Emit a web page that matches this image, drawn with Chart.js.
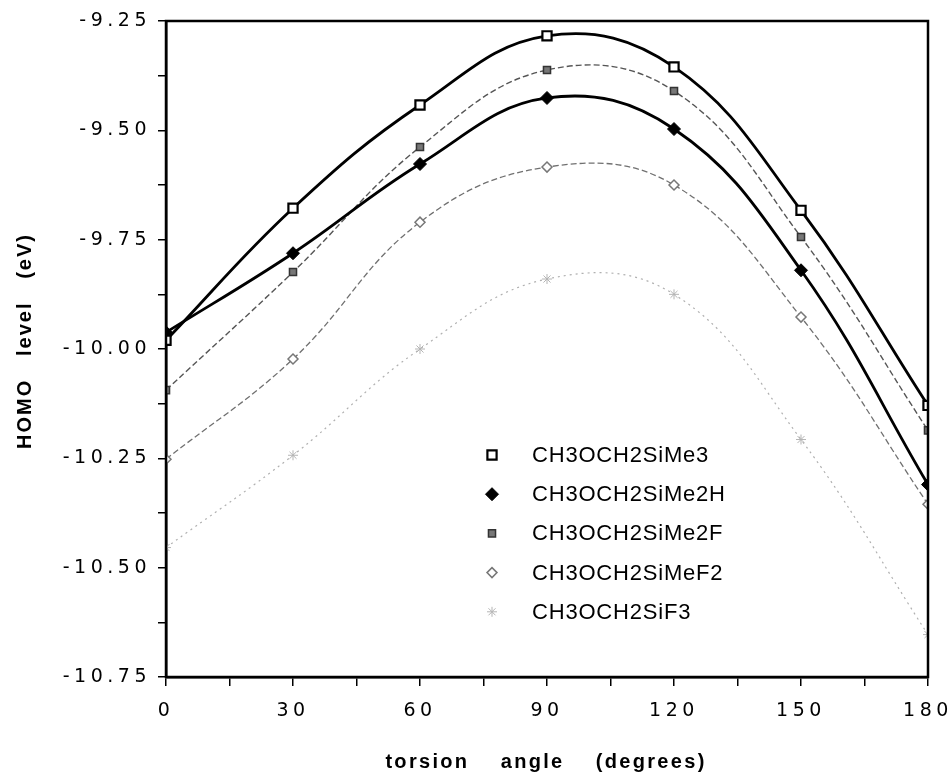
<!DOCTYPE html>
<html><head><meta charset="utf-8">
<script src="https://cdn.jsdelivr.net/npm/chart.js@4/dist/chart.umd.min.js"></script>
<style>html,body{margin:0;padding:0;background:#fff}#wrap{width:950px;height:778px}</style>
</head><body><div id="wrap"><canvas id="c" width="950" height="778"></canvas></div>
<script>
const angles = [0, 30, 60, 90, 120, 150, 180];
const xTickLabels = ['0', '30', '60', '90', '120', '150', '180'];
const me3   = [-9.98, -9.678, -9.442, -9.284, -9.355, -9.683, -10.129];
const me2h  = [-9.962, -9.781, -9.577, -9.426, -9.497, -9.82, -10.31];
const me2f  = [-10.094, -9.824, -9.538, -9.362, -9.41, -9.744, -10.186];
const mef2  = [-10.252, -10.023, -9.71, -9.584, -9.625, -9.927, -10.355];
const sif3  = [-10.454, -10.243, -10.0, -9.84, -9.875, -10.207, -10.653];
const names = ['CH3OCH2SiMe3','CH3OCH2SiMe2H','CH3OCH2SiMe2F','CH3OCH2SiMeF2','CH3OCH2SiF3'];
const xTitle = 'torsion    angle    (degrees)';
const yTitle = 'HOMO   level   (eV)';

const pts = arr => arr.map((v,i)=>({x:angles[i], y:v}));
const FONT = '"Liberation Sans", Arial, sans-serif';
const TFONT = '"DejaVu Sans", sans-serif';

const datasets = [
 {label:names[0], data:pts(me3), borderColor:'#000', borderWidth:2.8, pointStyle:'rect', pointRadius:6.5, pointBorderWidth:2.2, pointBackgroundColor:'#fff', pointBorderColor:'#000'},
 {label:names[1], data:pts(me2h), borderColor:'#000', borderWidth:2.8, pointStyle:'rectRot', pointRadius:6.5, pointBorderWidth:1, pointBackgroundColor:'#000', pointBorderColor:'#000'},
 {label:names[2], data:pts(me2f), borderColor:'#555', borderWidth:1.4, borderDash:[6,3], pointStyle:'rect', pointRadius:5, pointBorderWidth:1.5, pointBackgroundColor:'#777', pointBorderColor:'#333'},
 {label:names[3], data:pts(mef2), borderColor:'#707070', borderWidth:1.3, borderDash:[6,3], pointStyle:'rectRot', pointRadius:5, pointBorderWidth:1.5, pointBackgroundColor:'#fff', pointBorderColor:'#777'},
 {label:names[4], data:pts(sif3), borderColor:'#b0b0b0', borderWidth:1.2, borderDash:[2,4], pointStyle:'star', pointRadius:5, pointBorderWidth:1, pointBackgroundColor:'#fff', pointBorderColor:'#b5b5b5'}
];
datasets.forEach(d=>{d.tension=0.4; d.fill=false;});

const framePlugin = {
 id:'frame',
 beforeDraw(chart){ chart.ctx.letterSpacing = '4.5px'; },
 afterDraw(chart){
  const {ctx, chartArea:a} = chart;
  ctx.save();
  ctx.strokeStyle='#000'; ctx.lineWidth=2.5;
  ctx.strokeRect(a.left, a.top, a.right-a.left, a.bottom-a.top);
  // axis titles
  ctx.fillStyle='#000'; ctx.textBaseline='middle'; ctx.textAlign='center';
  ctx.letterSpacing = '2.3px';
  ctx.font = 'bold 20px ' + FONT;
  ctx.fillText(xTitle, 546, 762);
  ctx.letterSpacing = '2px';
  ctx.save();
  ctx.translate(25, 341);
  ctx.rotate(-Math.PI/2);
  ctx.fillText(yTitle, 0, 0);
  ctx.restore();
  // legend
  const lx = 492, tx = 532, y0 = 455, dy = 39.2;
  ctx.letterSpacing = '0.8px';
  ctx.font = '22px ' + FONT; ctx.textAlign='left';
  chart.data.datasets.forEach((d,i)=>{
    const y = y0 + i*dy;
    ctx.save();
    ctx.fillStyle = d.pointBackgroundColor; ctx.strokeStyle = d.pointBorderColor; ctx.lineWidth = d.pointBorderWidth;
    ctx.setLineDash([]);
    Chart.helpers.drawPoint(ctx, {pointStyle:d.pointStyle, radius:d.pointRadius, rotation:0, borderWidth:d.pointBorderWidth}, lx, y);
    ctx.restore();
    ctx.fillStyle='#000';
    ctx.fillText(d.label, tx, y + 1);
  });
  ctx.restore();
  ctx.letterSpacing = '0px';
 }
};

new Chart(document.getElementById('c'), {
 type:'line',
 data:{datasets},
 options:{
  responsive:false, animation:false,
  layout:{autoPadding:false, padding:{top:21, right:22, left:0, bottom:0}},
  plugins:{legend:{display:false}, tooltip:{enabled:false}},
  scales:{
   x:{type:'linear', min:0, max:180,
      afterFit(s){ s.height = 101; s.paddingLeft = 0; s.paddingRight = 0; },
      afterBuildTicks(s){ const t=[]; for(let v=0; v<=180; v+=15) t.push({value:v}); s.ticks=t; },
      ticks:{autoSkip:false, maxRotation:0, padding:14, color:'#000', font:{family:TFONT, size:19},
        callback:v=> (v%30===0 ? xTickLabels[angles.indexOf(v)] : '')},
      grid:{drawOnChartArea:false, tickLength:9, color:'#000', lineWidth:1.5},
      border:{display:true, color:'#000', width:2.5}
   },
   y:{type:'linear', min:-10.75, max:-9.25,
      afterFit(s){ s.width = 166; s.paddingTop = 0; s.paddingBottom = 0; },
      afterBuildTicks(s){ const t=[]; for(let k=0; k<=12; k++) t.push({value:-10.75 + k*0.125}); s.ticks=t; },
      ticks:{autoSkip:false, padding:7, color:'#000', font:{family:TFONT, size:19},
        callback:v=>{ const r = Math.round(v*1000); return (r % 250 === 0) ? v.toFixed(2) : ''; }},
      grid:{drawOnChartArea:false, tickLength:8, color:'#000', lineWidth:1.5},
      border:{display:true, color:'#000', width:2.5}
   }
  }
 },
 plugins:[framePlugin]
});
</script></body></html>
